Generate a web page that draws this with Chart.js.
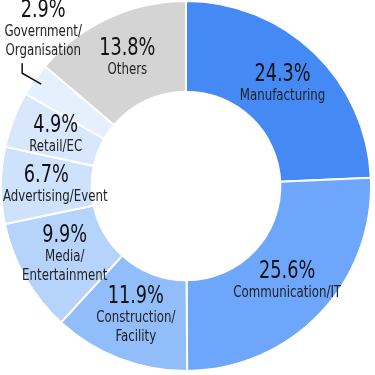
<!DOCTYPE html>
<html lang="en">
<head>
    <meta charset="UTF-8">
    <title>Industry share</title>
    <script src="https://cdn.jsdelivr.net/npm/chart.js"></script>
    <style>
        html, body { margin: 0; padding: 0; background: #fff; }
        #wrap { width: 375px; height: 375px; }
    </style>
</head>
<body>
    <div id="wrap"><canvas id="myChart"></canvas></div>

    <script>
        // data, clockwise from 12 o'clock
        const categories = [
            ['Manufacturing'],
            ['Communication/IT'],
            ['Construction/', 'Facility'],
            ['Media/', 'Entertainment'],
            ['Advertising/Event'],
            ['Retail/EC'],
            ['Government/', 'Organisation'],
            ['Others']
        ];
        const shares = [24.3, 25.6, 11.9, 9.9, 6.7, 4.9, 2.9, 13.8];

        const sliceColors = ['#4589f5', '#6ea6fb', '#92bdfb', '#b6d3fc', '#cfe2fd', '#d9e7fd', '#e6effe', '#d4d4d4'];
        const fontFamily = '"Liberation Sans Narrow", "DejaVu Sans Condensed", "Roboto", sans-serif';
        const squeeze = 0.82; // the original lettering is a condensed face
        const outsideIndex = 6; // small slice labelled outside with a leader line

        // draw text squeezed horizontally, kept inside the left edge
        function drawText(ctx, text, x, y) {
            const w = ctx.measureText(text).width * squeeze;
            if (x - w / 2 < 3) x = 3 + w / 2;
            ctx.save();
            ctx.translate(x, y);
            ctx.scale(squeeze, 1);
            ctx.fillText(text, 0, 0);
            ctx.restore();
        }

        const labelPlugin = {
            id: 'sliceLabels',
            afterDatasetsDraw(chart) {
                const ctx = chart.ctx;
                const arcs = chart.getDatasetMeta(0).data;
                ctx.save();
                ctx.textAlign = 'center';
                ctx.textBaseline = 'middle';
                arcs.forEach(function(arc, i) {
                    const p = arc.getProps(['x', 'y', 'startAngle', 'endAngle', 'innerRadius', 'outerRadius'], true);
                    const mid = (p.startAngle + p.endAngle) / 2;
                    const pct = shares[i].toFixed(1) + '%';
                    const lines = categories[i];
                    let cx, cy;

                    if (i === outsideIndex) {
                        // leader line: out of the slice, then straight up to the text
                        const r1 = p.outerRadius - 8;
                        const x1 = p.x + Math.cos(mid) * r1, y1 = p.y + Math.sin(mid) * r1;
                        const x2 = x1 - 19, y2 = y1 - 11;
                        const top = y2 - 10;
                        ctx.strokeStyle = '#111';
                        ctx.lineWidth = 1.5;
                        ctx.beginPath();
                        ctx.moveTo(x1, y1);
                        ctx.lineTo(x2, y2);
                        ctx.lineTo(x2, top);
                        ctx.stroke();
                        cx = x2 + 21;
                        cy = top - 33;
                    } else {
                        const r = (p.innerRadius + p.outerRadius) / 2;
                        cx = p.x + Math.cos(mid) * r;
                        cy = p.y + Math.sin(mid) * r;
                    }

                    const blockH = 21 + lines.length * 19;
                    let y = cy - blockH / 2 + 10;
                    ctx.fillStyle = '#111';
                    ctx.font = '24px ' + fontFamily;
                    drawText(ctx, pct, cx, y);
                    y += 21;
                    ctx.fillStyle = '#222';
                    ctx.font = '16px ' + fontFamily;
                    lines.forEach(function(t) {
                        drawText(ctx, t, cx, y);
                        y += 19;
                    });
                });
                ctx.restore();
            }
        };

        const myChart = new Chart(document.getElementById('myChart'), {
            type: 'doughnut',
            data: {
                labels: categories.map(function(l) { return l.join(' '); }),
                datasets: [{
                    data: shares,
                    backgroundColor: sliceColors,
                    borderColor: '#ffffff',
                    borderWidth: 2
                }]
            },
            options: {
                responsive: true,
                maintainAspectRatio: false,
                animation: false,
                cutout: '51%',
                layout: { padding: { right: 3, bottom: 3 } },
                plugins: {
                    legend: { display: false },
                    tooltip: { enabled: false }
                }
            },
            plugins: [labelPlugin]
        });
    </script>
</body>
</html>
